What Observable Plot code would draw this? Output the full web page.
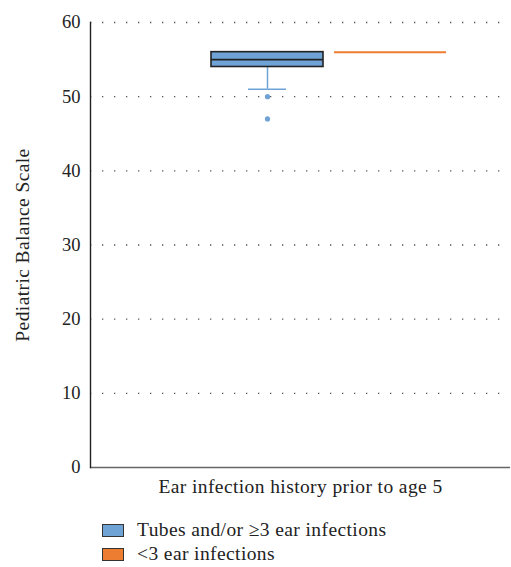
<!DOCTYPE html>
<html>
<head>
<meta charset="utf-8">
<script src="https://cdn.jsdelivr.net/npm/d3@7"></script>
<script src="https://cdn.jsdelivr.net/npm/@observablehq/plot@0.6"></script>
<style>
  body { margin: 0; background: #fff; font-family: "Liberation Serif", serif; }
  #chart svg, #chart svg text { font-family: "Liberation Serif", serif !important; }
  #chart svg .lbl text { letter-spacing: 0.4px; }
  #legend { margin-left: 102px; margin-top: 13px; font-size: 19.5px; letter-spacing: 0.4px; color: #222; }
  .row { display: flex; align-items: center; height: 24px; }
  .sw { width: 20px; height: 11px; border: 1px solid #333; margin-right: 13px; }
</style>
</head>
<body>
<div id="chart"></div>
<div id="legend"></div>
<script>
const groups = ["Tubes and/or ≥3 ear infections", "<3 ear infections"];
const colors = ["#6fa3d6", "#ed7d31"];
const q1 = [54, 56];
const median = [55, 56];
const q3 = [56, 56];
const whiskerLow = [51, 56];
const whiskerHigh = [56, 56];
const outlierGroup = ["Tubes and/or ≥3 ear infections", "Tubes and/or ≥3 ear infections"];
const outlierValue = [50, 47];
const yTicks = [0, 10, 20, 30, 40, 50, 60];

const boxes = groups.map((g, i) => ({g, q1: q1[i], med: median[i], q3: q3[i], lo: whiskerLow[i], hi: whiskerHigh[i], color: colors[i]}));
const blue = boxes.filter(d => d.q3 > d.q1);
const flat = boxes.filter(d => d.q3 === d.q1);
const outliers = outlierGroup.map((g, i) => ({g, v: outlierValue[i]}));
const FF = "Liberation Serif";

const chart = Plot.plot({
  width: 511,
  height: 505,
  marginLeft: 90,
  marginRight: 1,
  marginTop: 22,
  marginBottom: 38,
  style: {fontFamily: FF, fontSize: "18.5px", color: "#222"},
  x: {domain: groups, range: [211, 446], paddingInner: 0.09, paddingOuter: 0, axis: null},
  y: {domain: [0, 60], ticks: yTicks, label: null},
  marks: [
    Plot.ruleY(yTicks.filter(t => t > 0), {stroke: "#555", strokeWidth: 1.3, strokeDasharray: "1.3,10.7"}),
    Plot.axisY({ticks: yTicks, tickSize: 0, tickPadding: 10, fontSize: 18.5, fontFamily: FF}),
    Plot.text(["Pediatric Balance Scale"], {frameAnchor: "left", textAnchor: "middle", rotate: -90, dx: -68, fontSize: 19.5, fontFamily: FF, fill: "#222", className: "lbl"}),
    Plot.text(["Ear infection history prior to age 5"], {frameAnchor: "bottom", dy: 25, fontSize: 19.5, fontFamily: FF, fill: "#222", className: "lbl"}),
    Plot.ruleX(blue, {x: "g", y1: "q1", y2: "lo", stroke: "#6fa3d6", strokeWidth: 1.5}),
    Plot.tickY(blue, {x: "g", y: "lo", stroke: "#6fa3d6", strokeWidth: 1.5, insetLeft: 37, insetRight: 37}),
    Plot.barY(blue, {x: "g", y1: "q1", y2: "q3", fill: "color", stroke: "#222", strokeWidth: 1.6}),
    Plot.tickY(blue, {x: "g", y: "med", stroke: "#222", strokeWidth: 1.6}),
    Plot.tickY(flat, {x: "g", y: "med", stroke: "color", strokeWidth: 2}),
    Plot.dot(outliers, {x: "g", y: "v", r: 2.6, fill: "#6fa3d6"}),
    Plot.ruleY([0], {stroke: "#666", strokeWidth: 1.6}),
    Plot.frame({anchor: "left", stroke: "#222", strokeWidth: 1.4})
  ]
});
document.getElementById("chart").appendChild(chart);

const legend = document.getElementById("legend");
groups.forEach((g, i) => {
  const row = document.createElement("div");
  row.className = "row";
  const sw = document.createElement("div");
  sw.className = "sw";
  sw.style.background = colors[i];
  const t = document.createElement("span");
  t.textContent = g;
  row.appendChild(sw);
  row.appendChild(t);
  legend.appendChild(row);
});
</script>
</body>
</html>
